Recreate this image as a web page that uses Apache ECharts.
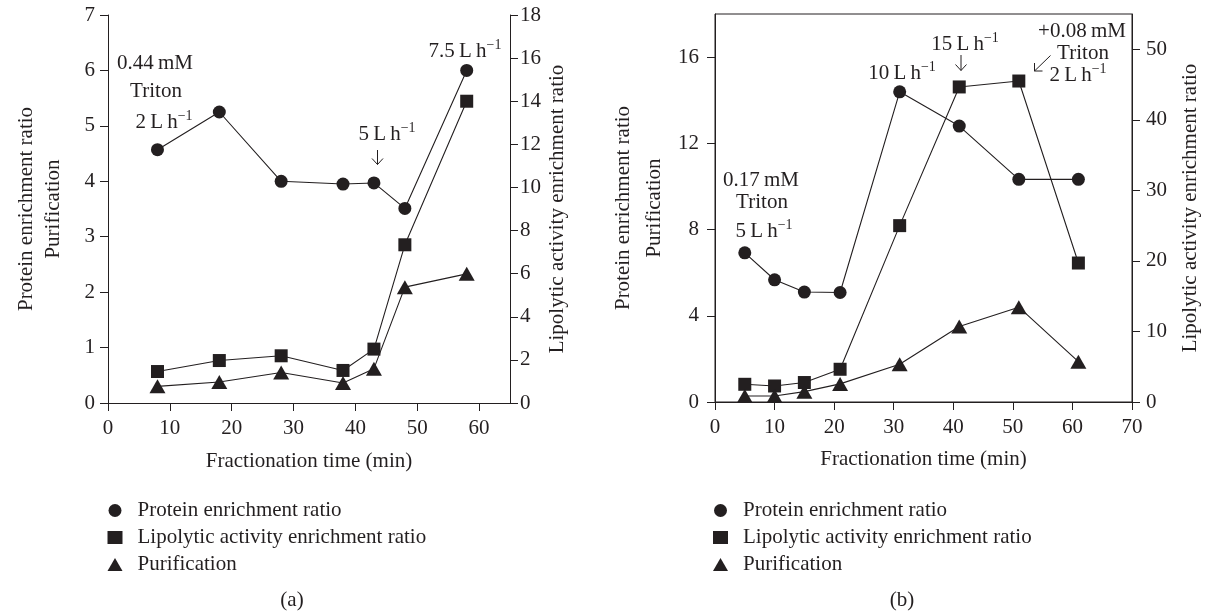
<!DOCTYPE html>
<html><head><meta charset="utf-8">
<script src="https://cdn.jsdelivr.net/npm/echarts@6/dist/echarts.min.js"></script>
<style>html,body{margin:0;padding:0;background:#fff}#c{width:1205px;height:613px}</style>
</head><body><div id="c"></div>
<script>
// ---------- DATA ----------
// Panel (a)
const timeA = [8, 18, 28, 38, 43, 48, 58];
const proteinA = [4.57, 5.25, 4.0, 3.95, 3.97, 3.51, 6.0];
const lipolyticA = [1.46, 1.97, 2.19, 1.51, 2.5, 7.34, 14.0];
const purificationA = [0.30, 0.38, 0.55, 0.36, 0.62, 2.09, 2.33];
// Panel (b)
const timeB = [5, 10, 15, 21, 31, 41, 51, 61];
const proteinB = [6.92, 5.67, 5.10, 5.08, 14.39, 12.8, 10.33, 10.33];
const lipolyticB = [2.51, 2.27, 2.76, 4.64, 25.0, 44.66, 45.5, 19.7];
const purificationB = [0.28, 0.28, 0.48, 0.84, 1.75, 3.5, 4.4, 1.87];
// Tick labels
const xTicksA = [0, 10, 20, 30, 40, 50, 60];
const yLeftTicksA = [0, 1, 2, 3, 4, 5, 6, 7];
const yRightTicksA = [0, 2, 4, 6, 8, 10, 12, 14, 16, 18];
const xTicksB = [0, 10, 20, 30, 40, 50, 60, 70];
const yLeftTicksB = [0, 4, 8, 12, 16];
const yRightTicksB = [0, 10, 20, 30, 40, 50];
const seriesNames = ['Protein enrichment ratio', 'Lipolytic activity enrichment ratio', 'Purification'];
const xName = 'Fractionation time (min)';
const yLeftName = 'Protein enrichment ratio\nPurification';
const yRightName = 'Lipolytic activity enrichment ratio';

// ---------- STYLE ----------
const INK = '#231f20';
const FONT = '"Liberation Serif", "DejaVu Serif", serif';
const FS = 21;

function axis(gridIndex, min, max, ticks, margin, extra) {
  return Object.assign({
    type: 'value', gridIndex: gridIndex, min: min, max: max,
    axisLine: { show: true, onZero: false, lineStyle: { color: INK, width: 1 } },
    axisTick: { show: true, inside: false, length: 8, customValues: ticks, lineStyle: { color: INK, width: 1 } },
    axisLabel: { customValues: ticks, color: INK, fontFamily: FONT, fontSize: FS, margin: margin },
    splitLine: { show: false },
    nameTextStyle: { color: INK, fontFamily: FONT, fontSize: FS }
  }, extra || {});
}

function pts(xs, ys) { return xs.map((x, i) => [x, ys[i]]); }

function lineSeries(name, xi, yi, data, symbol, size) {
  return {
    type: 'line', name: name, xAxisIndex: xi, yAxisIndex: yi, data: data,
    symbol: symbol, symbolSize: size, showAllSymbol: true,
    itemStyle: { color: INK, opacity: 1 },
    lineStyle: { color: INK, width: 1.1 },
    emphasis: { disabled: true }, animation: false, z: 3
  };
}

const chart = echarts.init(document.getElementById('c'), null, { renderer: 'canvas' });

function lh(t, cx, cy) {
  return {
    type: 'text', x: cx, y: cy, z: 10,
    style: {
      text: '{n|' + t + '}{s|\u22121}',
      align: 'center', verticalAlign: 'middle',
      rich: {
        n: { fontFamily: FONT, fontSize: FS, fill: INK, color: INK, lineHeight: 24, verticalAlign: 'bottom' },
        s: { fontFamily: FONT, fontSize: 14, fill: INK, color: INK, lineHeight: 14, verticalAlign: 'top' }
      }
    }
  };
}
function txt(t, cx, cy) {
  return { type: 'text', x: cx, y: cy, z: 10,
    style: { text: t, fill: INK, font: FS + 'px ' + FONT, align: 'center', verticalAlign: 'middle' } };
}
function poly(points) {
  return { type: 'polyline', z: 10, shape: { points: points },
    style: { stroke: INK, lineWidth: 1, fill: null } };
}

const legendData = [
  { name: seriesNames[0], icon: 'circle' },
  { name: seriesNames[1], icon: 'rect' },
  { name: seriesNames[2], icon: 'triangle' }
];
function legend(left) {
  return {
    orient: 'vertical', left: left, top: 494, padding: 5, itemWidth: 15, itemHeight: 13, itemGap: 4,
    data: legendData, selectedMode: false,
    textStyle: { color: INK, fontFamily: FONT, fontSize: FS, lineHeight: 23, padding: [0, 0, 0, 10] },
    itemStyle: { color: INK }
  };
}

chart.setOption({
  backgroundColor: '#fff',
  animation: false,
  grid: [
    { left: 108, top: 15, width: 402, height: 388, containLabel: false },
    { left: 715, top: 14, width: 417, height: 388, containLabel: false, show: true, borderColor: INK, borderWidth: 1 }
  ],
  xAxis: [
    axis(0, 0, 65, xTicksA, 15, { position: 'bottom', name: xName, nameLocation: 'middle', nameGap: 48 }),
    axis(1, 0, 70, xTicksB, 15, { position: 'bottom', name: xName, nameLocation: 'middle', nameGap: 47 })
  ],
  yAxis: [
    axis(0, 0, 7, yLeftTicksA, 13, { position: 'left', name: yLeftName, nameLocation: 'middle', nameRotate: 90, nameGap: 41,
      nameTextStyle: { color: INK, fontFamily: FONT, fontSize: FS, lineHeight: 27 } }),
    axis(0, 0, 18, yRightTicksA, 10, { position: 'right', name: yRightName, nameLocation: 'middle', nameRotate: 90, nameGap: 37 }),
    axis(1, 0, 18, yLeftTicksB, 16, { position: 'left', name: yLeftName, nameLocation: 'middle', nameRotate: 90, nameGap: 45,
      nameTextStyle: { color: INK, fontFamily: FONT, fontSize: FS, lineHeight: 31 } }),
    axis(1, 0, 55, yRightTicksB, 14, { position: 'right', name: yRightName, nameLocation: 'middle', nameRotate: 90, nameGap: 48 })
  ],
  legend: [legend(102.5), legend(708)],
  series: [
    lineSeries(seriesNames[0], 0, 0, pts(timeA, proteinA), 'circle', 13),
    lineSeries(seriesNames[1], 0, 1, pts(timeA, lipolyticA), 'rect', 13),
    lineSeries(seriesNames[2], 0, 0, pts(timeA, purificationA), 'triangle', [16, 14]),
    lineSeries(seriesNames[0], 1, 2, pts(timeB, proteinB), 'circle', 13),
    lineSeries(seriesNames[1], 1, 3, pts(timeB, lipolyticB), 'rect', 13),
    lineSeries(seriesNames[2], 1, 2, pts(timeB, purificationB), 'triangle', [16, 14])
  ],
  graphic: [
    // panel (a) annotations
    txt('0.44\u2009mM', 155, 63),
    txt('Triton', 156, 91),
    lh('2\u2009L\u2009h', 164, 121),
    lh('5\u2009L\u2009h', 387, 133),
    poly([[377.5, 150], [377.5, 164.5]]),
    poly([[372, 158.5], [377.5, 164.5], [383, 158.5]]),
    lh('7.5\u2009L\u2009h', 465, 50),
    // panel (b) annotations
    txt('0.17\u2009mM', 761, 180),
    txt('Triton', 762, 202),
    lh('5\u2009L\u2009h', 764, 230),
    lh('10\u2009L\u2009h', 902, 72),
    lh('15\u2009L\u2009h', 965, 43),
    poly([[961, 55], [961, 70.5]]),
    poly([[955.5, 64.5], [961, 70.5], [966.5, 64.5]]),
    txt('+0.08\u2009mM', 1082, 31),
    txt('Triton', 1083, 53),
    lh('2\u2009L\u2009h', 1078, 74),
    poly([[1050.5, 55.5], [1034.5, 71]]),
    poly([[1042.5, 71], [1034.5, 71], [1034.5, 63]]),
    // panel labels
    txt('(a)', 292, 600),
    txt('(b)', 902, 600)
  ]
});
</script>
</body></html>
